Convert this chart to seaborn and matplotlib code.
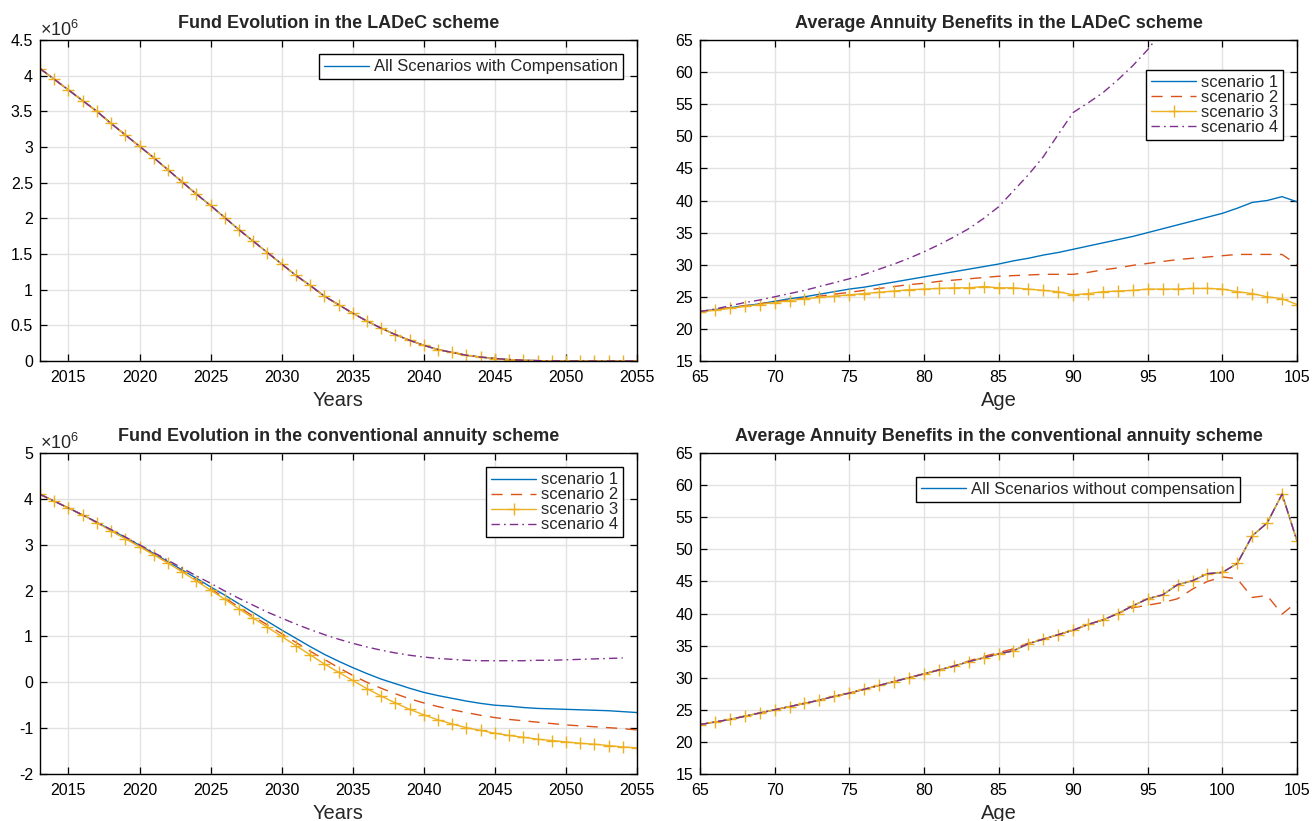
import matplotlib
matplotlib.use("Agg")
import matplotlib.pyplot as plt
from matplotlib.ticker import FuncFormatter
import seaborn as sns

# ---------------- data ----------------
years = list(range(2013, 2056))
ages = list(range(65, 106))

# Fund evolution, LADeC scheme (millions) - all scenarios identical
ladec_fund = [4.10, 3.95, 3.80, 3.65, 3.50, 3.33, 3.17, 3.01, 2.85, 2.68,
              2.51, 2.34, 2.18, 2.01, 1.84, 1.68, 1.52, 1.36, 1.20, 1.06,
              0.91, 0.79, 0.67, 0.56, 0.46, 0.37, 0.29, 0.22, 0.16, 0.12,
              0.08, 0.055, 0.035, 0.02, 0.01, 0.005, 0.002, 0.0, 0.0, 0.0,
              0.0, 0.0, 0.0]

# Average annuity benefits, LADeC scheme
ladec_ben_s1 = [22.7, 23.0, 23.3, 23.6, 23.9, 24.3, 24.7, 25.0, 25.4, 25.8,
                26.2, 26.5, 26.9, 27.3, 27.7, 28.1, 28.5, 28.9, 29.3, 29.7,
                30.1, 30.6, 31.0, 31.5, 31.9, 32.4, 32.9, 33.4, 33.9, 34.4,
                35.0, 35.6, 36.2, 36.8, 37.4, 38.0, 38.8, 39.7, 40.0, 40.6,
                39.8]
ladec_ben_s2 = [22.7, 23.0, 23.3, 23.6, 23.9, 24.2, 24.5, 24.8, 25.1, 25.4,
                25.7, 26.0, 26.3, 26.6, 26.9, 27.1, 27.4, 27.6, 27.8, 28.0,
                28.2, 28.3, 28.4, 28.5, 28.5, 28.5, 28.8, 29.2, 29.5, 29.9,
                30.2, 30.5, 30.8, 31.0, 31.2, 31.4, 31.6, 31.6, 31.6, 31.6,
                30.0]
ladec_ben_s3 = [22.7, 22.9, 23.2, 23.5, 23.8, 24.1, 24.4, 24.7, 24.9, 25.1,
                25.3, 25.5, 25.7, 25.9, 26.1, 26.2, 26.3, 26.4, 26.4, 26.6,
                26.4, 26.4, 26.2, 26.0, 25.8, 25.3, 25.5, 25.8, 25.9, 26.0,
                26.2, 26.2, 26.2, 26.3, 26.3, 26.2, 25.8, 25.5, 25.0, 24.7,
                23.8]
ladec_ben_s4 = [22.7, 23.1, 23.6, 24.1, 24.5, 25.0, 25.5, 26.0, 26.6, 27.2,
                27.8, 28.5, 29.3, 30.1, 31.0, 32.0, 33.1, 34.3, 35.6, 37.2,
                39.0, 41.5, 44.0, 46.8, 50.3, 53.7, 55.2, 56.8, 58.8, 61.0,
                63.5, 66.5]

# Fund evolution, conventional annuity scheme (millions)
conv_fund_s1 = [4.10, 3.95, 3.80, 3.65, 3.49, 3.32, 3.16, 2.99, 2.81, 2.63,
                2.45, 2.27, 2.08, 1.90, 1.71, 1.52, 1.33, 1.14, 0.96, 0.78,
                0.61, 0.46, 0.32, 0.19, 0.07, -0.03, -0.13, -0.22, -0.29, -0.35,
                -0.41, -0.46, -0.50, -0.52, -0.55, -0.57, -0.58, -0.59, -0.60, -0.61,
                -0.62, -0.64, -0.66]
conv_fund_s2 = [4.10, 3.95, 3.80, 3.64, 3.48, 3.31, 3.14, 2.97, 2.79, 2.61,
                2.42, 2.23, 2.04, 1.84, 1.64, 1.44, 1.25, 1.06, 0.87, 0.68,
                0.50, 0.32, 0.15, 0.00, -0.13, -0.25, -0.36, -0.45, -0.53, -0.60,
                -0.66, -0.72, -0.77, -0.81, -0.84, -0.87, -0.90, -0.93, -0.95, -0.97,
                -0.99, -1.01, -1.04]
conv_fund_s3 = [4.10, 3.95, 3.80, 3.65, 3.48, 3.30, 3.13, 2.96, 2.78, 2.60,
                2.41, 2.21, 2.01, 1.81, 1.60, 1.40, 1.20, 1.00, 0.80, 0.60,
                0.40, 0.22, 0.04, -0.14, -0.30, -0.45, -0.59, -0.71, -0.82, -0.91,
                -0.99, -1.05, -1.11, -1.16, -1.20, -1.24, -1.27, -1.30, -1.33, -1.35,
                -1.38, -1.41, -1.43]
conv_fund_s4 = [4.10, 3.95, 3.80, 3.65, 3.49, 3.33, 3.17, 3.00, 2.83, 2.66,
                2.49, 2.32, 2.16, 1.99, 1.83, 1.68, 1.53, 1.40, 1.27, 1.15,
                1.04, 0.94, 0.85, 0.77, 0.70, 0.64, 0.59, 0.55, 0.52, 0.50,
                0.48, 0.47, 0.47, 0.47, 0.47, 0.48, 0.48, 0.49, 0.50, 0.51,
                0.52, 0.53]

# Average annuity benefits, conventional annuity scheme
conv_ben_main = [22.7, 23.1, 23.5, 24.0, 24.5, 25.0, 25.5, 26.0, 26.5, 27.1,
                 27.6, 28.2, 28.8, 29.4, 30.0, 30.6, 31.2, 31.8, 32.5, 33.1,
                 33.7, 34.2, 35.3, 36.0, 36.7, 37.4, 38.3, 39.0, 40.0, 41.2,
                 42.3, 42.9, 44.5, 45.1, 46.2, 46.4, 47.8, 52.1, 54.1, 58.6,
                 51.3]
conv_ben_s2 = [22.7, 23.1, 23.5, 24.0, 24.5, 25.0, 25.5, 26.0, 26.5, 27.1,
               27.6, 28.2, 28.8, 29.4, 30.0, 30.6, 31.2, 31.8, 32.6, 33.3,
               33.9, 34.5, 35.4, 36.0, 36.7, 37.4, 38.3, 39.0, 40.0, 40.9,
               41.3, 41.7, 42.3, 43.8, 45.0, 45.7, 45.4, 42.5, 42.8, 39.9,
               41.8]

titles = ["Fund Evolution in the LADeC scheme",
          "Average Annuity Benefits in the LADeC scheme",
          "Fund Evolution in the conventional annuity scheme",
          "Average Annuity Benefits in the conventional annuity scheme"]
labels4 = ["scenario 1", "scenario 2", "scenario 3", "scenario 4"]

# ---------------- style ----------------
sns.set_theme(style="whitegrid")
plt.rcParams['font.family'] = ['Liberation Sans', 'DejaVu Sans']
plt.rcParams['axes.unicode_minus'] = False
plt.rcParams['mathtext.fontset'] = 'custom'
plt.rcParams['mathtext.rm'] = 'Liberation Sans'

C1, C2, C3, C4 = '#0072BD', '#D95319', '#EDB120', '#7E2F8E'

fig = plt.figure(figsize=(13.12, 8.21), dpi=100)
W = 597 / 1312
H = 321 / 821
axTL = fig.add_axes([40 / 1312, 1 - 361 / 821, W, H])
axTR = fig.add_axes([700 / 1312, 1 - 361 / 821, W, H])
axBL = fig.add_axes([40 / 1312, 1 - 774 / 821, W, H])
axBR = fig.add_axes([700 / 1312, 1 - 774 / 821, W, H])


def draw4(ax, x, ys):
    lines = []
    for y, c, lab in zip(ys, [C1, C2, C3, C4], labels4):
        sns.lineplot(x=x[:len(y)], y=y, ax=ax, color=c, label=lab, lw=1.0)
        lines.append(ax.lines[-1])
    l1, l2, l3, l4 = lines
    l1.set_linestyle('-')
    l2.set_linestyle((0, (8, 6)))
    l3.set_linestyle('-')
    l3.set_marker('+')
    l3.set_markersize(9)
    l3.set_markeredgewidth(1.0)
    l3.set_markeredgecolor(C3)
    l3.set_markerfacecolor(C3)
    l4.set_linestyle((0, (6, 3, 1.2, 3)))
    if ax.get_legend() is not None:
        ax.get_legend().remove()
    return lines


def style(ax, xlim, ylim, xticks, yticks, xlabel, title):
    ax.set_xlim(xlim)
    ax.set_ylim(ylim)
    ax.set_xticks(xticks)
    ax.set_yticks(yticks)
    ax.set_facecolor('white')
    ax.grid(True, color='#e2e2e2', lw=1.0)
    ax.set_axisbelow(True)
    for s in ax.spines.values():
        s.set_visible(True)
        s.set_color('black')
        s.set_linewidth(1.0)
    ax.tick_params(direction='in', length=5, width=0.9, top=True, right=True,
                   bottom=True, left=True, labelsize=11.5, colors='black')
    ax.tick_params(axis='x', pad=6.5)
    ax.tick_params(axis='y', pad=5)
    ax.yaxis.set_major_formatter(FuncFormatter(lambda v, p: f"{v:g}"))
    ax.xaxis.set_major_formatter(FuncFormatter(lambda v, p: f"{v:g}"))
    ax.set_xlabel(xlabel, fontsize=14.5, labelpad=4)
    ax.set_ylabel('')
    ax.set_title(title, fontsize=13, fontweight='bold', pad=9)


def leg(ax, hs, ls, loc, anchor):
    lg = ax.legend(hs, ls, loc=loc, bbox_to_anchor=anchor, borderaxespad=0,
                   frameon=True, fancybox=False, edgecolor='black',
                   framealpha=1, fontsize=12, handlelength=2.7,
                   borderpad=0.3, labelspacing=0.0, handletextpad=0.3)
    lg.get_frame().set_linewidth(1.0)


year_ticks = list(range(2015, 2056, 5))
age_ticks = list(range(65, 106, 5))
ben_yticks = list(range(15, 66, 5))

# Top-left
ln = draw4(axTL, years, [ladec_fund] * 4)
style(axTL, (2013, 2055), (0, 4.5), year_ticks, [i * 0.5 for i in range(10)],
      'Years', titles[0])
leg(axTL, ln[:1], ["All Scenarios with Compensation"], 'upper right', (0.977, 0.955))
axTL.text(0.0, 1.0, r'$\times\mathdefault{10^{6}}$', transform=axTL.transAxes,
          ha='left', va='bottom', fontsize=13)

# Top-right
ln = draw4(axTR, ages, [ladec_ben_s1, ladec_ben_s2, ladec_ben_s3, ladec_ben_s4])
style(axTR, (65, 105), (15, 65), age_ticks, ben_yticks, 'Age', titles[1])
leg(axTR, ln, labels4, 'upper right', (0.977, 0.908))

# Bottom-left
ln = draw4(axBL, years, [conv_fund_s1, conv_fund_s2, conv_fund_s3, conv_fund_s4])
style(axBL, (2013, 2055), (-2, 5), year_ticks, list(range(-2, 6)), 'Years', titles[2])
leg(axBL, ln, labels4, 'upper right', (0.977, 0.955))
axBL.text(0.0, 1.0, r'$\times\mathdefault{10^{6}}$', transform=axBL.transAxes,
          ha='left', va='bottom', fontsize=13)

# Bottom-right
ln = draw4(axBR, ages, [conv_ben_main, conv_ben_s2, conv_ben_main, conv_ben_main])
style(axBR, (65, 105), (15, 65), age_ticks, ben_yticks, 'Age', titles[3])
leg(axBR, ln[:1], ["All Scenarios without compensation"], 'upper left', (0.362, 0.926))

fig.savefig('out.png', dpi=100, facecolor='white')
